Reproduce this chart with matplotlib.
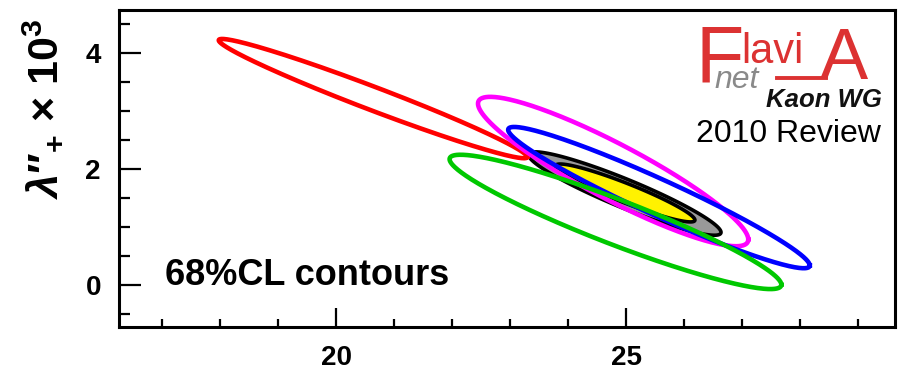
import numpy as np
import matplotlib
matplotlib.use("Agg")
import matplotlib.pyplot as plt
from matplotlib.ticker import MultipleLocator
from matplotlib.lines import Line2D

plt.rcParams['font.family'] = ['Liberation Sans', 'DejaVu Sans']
plt.rcParams['mathtext.fontset'] = 'custom'
plt.rcParams['mathtext.rm'] = 'Liberation Sans:bold'
plt.rcParams['mathtext.it'] = 'Liberation Sans:bold:italic'
plt.rcParams['mathtext.bf'] = 'Liberation Sans:bold'

# --- data: 68% CL contours (centre, half-extent in x/y, correlation) ---
names    = ['red', 'magenta', 'blue', 'green', 'fit_outer', 'fit_inner']
centre_x = [20.63, 24.77, 25.56, 24.81, 24.97, 24.98]
centre_y = [3.22, 1.96, 1.51, 1.09, 1.58, 1.59]
extent_x = [2.66, 2.33, 2.60, 2.86, 1.66, 1.20]
extent_y = [1.03, 1.29, 1.22, 1.16, 0.72, 0.50]
corr     = [-0.978, -0.909, -0.96, -0.934, -0.93, -0.935]
edge_col = ['#ff0000', '#ff00ff', '#0000ff', '#00c800', 'black', 'black']
fill_col = [None, None, None, None, '#999999', '#fff200']

x_ticks = [20, 25]
y_ticks = [0, 2, 4]

W, H = 899, 370
fig = plt.figure(figsize=(W / 100, H / 100), dpi=100)
ax = fig.add_axes([119 / W, 43 / H, (895 - 119) / W, (327 - 10) / H])

t = np.linspace(0, 2 * np.pi, 500)
for cx, cy, sx, sy, r, ec, fc in zip(centre_x, centre_y, extent_x, extent_y,
                                     corr, edge_col, fill_col):
    xs = cx + sx * np.cos(t)
    ys = cy + sy * (r * np.cos(t) + np.sqrt(1 - r * r) * np.sin(t))
    if fc is None:
        ax.plot(xs, ys, color=ec, lw=3.3, solid_joinstyle='round')
    else:
        ax.fill(xs, ys, facecolor=fc, edgecolor=ec, lw=2.6)

ax.set_xlim(16.25, 29.63)
ax.set_ylim(-0.725, 4.75)
ax.set_xticks(x_ticks)
ax.set_yticks(y_ticks)
ax.xaxis.set_minor_locator(MultipleLocator(1))
ax.yaxis.set_minor_locator(MultipleLocator(0.5))
ax.tick_params(axis='both', which='both', direction='in', width=1.6,
               top=False, right=False, labelsize=20)
ax.tick_params(axis='x', which='major', length=13.5, pad=13)
ax.tick_params(axis='x', which='minor', length=6)
ax.tick_params(axis='y', which='major', length=16, pad=13)
ax.tick_params(axis='y', which='minor', length=8)
for lab in ax.get_xticklabels() + ax.get_yticklabels():
    lab.set_fontweight('bold')
for s in ax.spines.values():
    s.set_linewidth(2.2)

ax.text(0.059, 0.131, '68%CL contours', transform=ax.transAxes,
        fontsize=26, fontweight='bold', ha='left', va='baseline')

fig.text(44 / W, 1 - 109 / H, "$\\lambda$\u2033$_{+}$ \u00d7 10$^{3}$",
         rotation=90, fontsize=31, fontweight='bold',
         ha='center', va='center')

# --- FlaviA logo ---
logo_red = '#dc3232'
fig.text(696 / W, 1 - 82 / H, 'F', color=logo_red, fontsize=57,
         ha='left', va='baseline')
fig.text(741 / W, 1 - 63 / H, 'lavi', color=logo_red, fontsize=30,
         ha='left', va='baseline')
fig.text(820 / W, 1 - 79 / H, 'A', color=logo_red, fontsize=52,
         ha='left', va='baseline')
fig.add_artist(Line2D([777 / W, 826 / W], [1 - 78 / H, 1 - 78 / H],
                      color=logo_red, lw=2.8, transform=fig.transFigure))
fig.text(714 / W, 1 - 88 / H, 'net', color='#8a8a8a', fontsize=23,
         style='italic', ha='left', va='baseline')
fig.text(766 / W, 1 - 107 / H, 'Kaon WG', color='#111111', fontsize=18.5,
         style='italic', fontweight='bold', ha='left', va='baseline')
fig.text(696 / W, 1 - 142 / H, '2010 Review', color='black', fontsize=23,
         ha='left', va='baseline')

fig.savefig('out.png', dpi=100)
